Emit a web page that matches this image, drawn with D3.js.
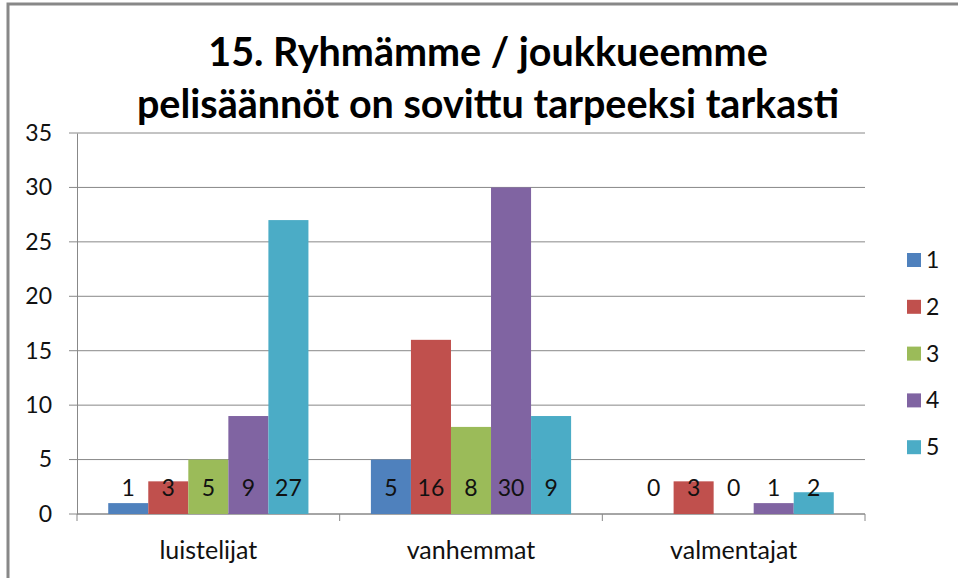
<!DOCTYPE html>
<html>
<head>
<meta charset="utf-8">
<script src="https://cdn.jsdelivr.net/npm/d3@7"></script>
<style>
  body { margin: 0; background: #fff; }
  text { font-family: Lato, "Open Sans", sans-serif; fill: #111; }
</style>
</head>
<body>
<div class="chart"></div>
<script>
// === Data ===
const categories = ["luistelijat", "vanhemmat", "valmentajat"];
const seriesNames = ["1", "2", "3", "4", "5"];
const series1 = [1, 5, 0];
const series2 = [3, 16, 3];
const series3 = [5, 8, 0];
const series4 = [9, 30, 1];
const series5 = [27, 9, 2];
const yTicks = [0, 5, 10, 15, 20, 25, 30, 35];
const titleLines = ["15. Ryhmämme / joukkueemme", "pelisäännöt on sovittu tarpeeksi tarkasti"];

const colors = ["#4F81BD", "#C0504D", "#9BBB59", "#8064A2", "#4BACC6"];
const allSeries = [series1, series2, series3, series4, series5];

// Chart init
const W = 958, H = 578;
const margin = {top: 133, right: 93, bottom: 64, left: 77};
const width = W - margin.left - margin.right;
const height = H - margin.top - margin.bottom;

const root = d3.select(".chart").append("svg")
    .attr("width", W)
    .attr("height", H);

// outer frame (top + left visible)
root.append("path")
    .attr("d", "M8,578 L8,4 L958,4")
    .attr("fill", "none")
    .attr("stroke", "#888")
    .attr("stroke-width", 3);

// title
root.selectAll(".title")
    .data(titleLines)
    .enter().append("text")
    .attr("class", "title")
    .attr("x", 488)
    .attr("y", (d, i) => 66 + i * 52)
    .attr("text-anchor", "middle")
    .attr("font-size", "39.5px")
    .attr("font-weight", "bold")
    .style("fill", "#000")
    .text(d => d);

const svg = root.append("g")
    .attr("transform", "translate(" + margin.left + "," + margin.top + ")");

// === Scales ===
const xScale = d3.scaleBand()
    .domain(categories)
    .range([0, width])
    .paddingInner(0)
    .paddingOuter(0);
const xInner = d3.scaleBand()
    .domain(seriesNames)
    .range([0, xScale.bandwidth()])
    .paddingOuter(0.78);
const yScale = d3.scaleLinear()
    .domain([0, 35])
    .range([height, 0]);

// grid lines
svg.append("g")
    .attr("class", "grid")
    .selectAll("line")
    .data(yTicks)
    .enter().append("line")
    .attr("x1", -8)
    .attr("x2", width)
    .attr("y1", d => yScale(d))
    .attr("y2", d => yScale(d))
    .attr("stroke", "#888")
    .attr("stroke-width", 1);

// y axis
const yAxis = d3.axisLeft(yScale)
    .tickValues(yTicks)
    .tickSize(0)
    .tickPadding(25);
const yg = svg.append("g").attr("class", "y-axis").call(yAxis);
yg.select(".domain").attr("stroke", "#888");
yg.selectAll("text").attr("font-size", "23px").attr("fill", "#111")
    .style("font-family", "Lato, sans-serif");

// x axis
const xg = svg.append("g")
    .attr("class", "x-axis")
    .attr("transform", "translate(0," + height + ")");
xg.append("line")
    .attr("x1", 0).attr("x2", width)
    .attr("stroke", "#888");
xg.selectAll(".sep")
    .data([0].concat(categories.map(c => xScale(c) + xScale.bandwidth())))
    .enter().append("line")
    .attr("class", "sep")
    .attr("x1", d => d).attr("x2", d => d)
    .attr("y1", 0).attr("y2", 7)
    .attr("stroke", "#888");
xg.selectAll(".cat")
    .data(categories)
    .enter().append("text")
    .attr("class", "cat")
    .attr("x", d => xScale(d) + xScale.bandwidth() / 2)
    .attr("y", 45)
    .attr("text-anchor", "middle")
    .attr("font-size", "25px")
    .text(d => d);

// bars
const groups = svg.selectAll(".grp")
    .data(categories)
    .enter().append("g")
    .attr("class", "grp")
    .attr("transform", d => "translate(" + xScale(d) + ",0)");

groups.each(function(cat, ci) {
    const g = d3.select(this);
    const rows = seriesNames.map((s, si) => ({s: s, v: allSeries[si][ci], c: colors[si]}));
    g.selectAll("rect")
        .data(rows)
        .enter().append("rect")
        .attr("x", d => xInner(d.s))
        .attr("width", xInner.bandwidth())
        .attr("y", d => yScale(d.v))
        .attr("height", d => height - yScale(d.v))
        .attr("fill", d => d.c);
    g.selectAll(".lbl")
        .data(rows)
        .enter().append("text")
        .attr("class", "lbl")
        .attr("x", d => xInner(d.s) + xInner.bandwidth() / 2)
        .attr("y", yScale(0) - 18)
        .attr("text-anchor", "middle")
        .attr("font-size", "23px")
        .text(d => d.v);
});

// legend
const legend = root.append("g")
    .attr("transform", "translate(907,0)");
const li = legend.selectAll("g")
    .data(seriesNames)
    .enter().append("g")
    .attr("transform", (d, i) => "translate(0," + (260 + i * 46.8) + ")");
li.append("rect")
    .attr("x", 0).attr("y", -7)
    .attr("width", 14).attr("height", 14)
    .attr("fill", (d, i) => colors[i]);
li.append("text")
    .attr("x", 19)
    .attr("y", 8)
    .attr("font-size", "23px")
    .text(d => d);
</script>
</body>
</html>
